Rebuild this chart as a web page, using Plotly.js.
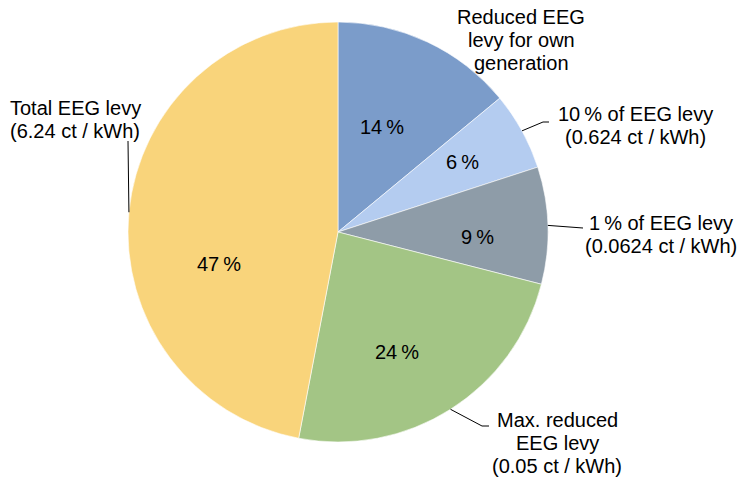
<!DOCTYPE html>
<html>
<head>
<meta charset="utf-8">
<script src="https://cdn.plot.ly/plotly-3.0.1.min.js"></script>
<style>html,body{margin:0;padding:0;background:#fff;}#chart{width:738px;height:481px;}</style>
</head>
<body>
<div id="chart"></div>
<script>
// ---- data ----
const categories = ['Reduced EEG levy for own generation', '10 % of EEG levy (0.624 ct / kWh)', '1 % of EEG levy (0.0624 ct / kWh)', 'Max. reduced EEG levy (0.05 ct / kWh)', 'Total EEG levy (6.24 ct / kWh)'];
const shares = [14, 6, 9, 24, 47];
const labelLines = [
  ['Reduced EEG', 'levy for own', 'generation'],
  ['10\u2009% of EEG levy', '(0.624 ct / kWh)'],
  ['1\u2009% of EEG levy', '(0.0624 ct / kWh)'],
  ['Max. reduced', 'EEG levy', '(0.05 ct / kWh)'],
  ['Total EEG levy', '(6.24 ct / kWh)']
];
const colors = ['#7B9CCA', '#B4CCF0', '#8E9CA8', '#A3C585', '#F9D47B'];

// ---- layout config (pixels) ----
const W = 738, H = 481;
const CX = 338, CY = 232, R = 210;
const FONT = 'Liberation Sans, Arial, sans-serif';
const FS = 20, LH = 23;
// outside label text centre (x) and first-line centre (y); leader path after pie edge
const labelCfg = [
  {x: 521, y: 17, path: null},
  {x: 635, y: 114, path: [[543, 122], [549, 122]]},
  {x: 661, y: 223, path: [[583, 228]]},
  {x: 557, y: 420, path: [[482, 426], [489, 426]]},
  {x: 75, y: 108, path: [[128, 141]]}
];
// inside percentage label centres
const insideCfg = [
  {x: 382, y: 127}, {x: 462, y: 162}, {x: 477, y: 237}, {x: 397, y: 352}, {x: 219, y: 264}
];

const px = x => x / W;
const py = y => 1 - y / H;

const total = shares.reduce((a, b) => a + b, 0);
let cum = 0;
const mids = shares.map(v => { const m = (cum + v / 2) / total * 2 * Math.PI; cum += v; return m; });

const annotations = [];
const shapes = [];
labelLines.forEach((lines, i) => {
  const c = labelCfg[i];
  lines.forEach((t, j) => {
    annotations.push({
      text: t, showarrow: false, xref: 'paper', yref: 'paper',
      x: px(c.x), y: py(c.y + j * LH), xanchor: 'center', yanchor: 'middle',
      font: {family: FONT, size: FS, color: '#000'}
    });
  });
  if (c.path) {
    const sx = CX + R * Math.sin(mids[i]);
    const sy = CY - R * Math.cos(mids[i]);
    const pts = [[sx, sy]].concat(c.path);
    const d = pts.map((p, k) => (k ? 'L' : 'M') + px(p[0]) + ',' + py(p[1])).join(' ');
    shapes.push({type: 'path', xref: 'paper', yref: 'paper', path: d, line: {color: '#000', width: 1}});
  }
});
shares.forEach((v, i) => {
  annotations.push({
    text: v + '\u2009%', showarrow: false, xref: 'paper', yref: 'paper',
    x: px(insideCfg[i].x), y: py(insideCfg[i].y), xanchor: 'center', yanchor: 'middle',
    font: {family: FONT, size: FS, color: '#000'}
  });
});

const trace = {
  type: 'pie',
  labels: categories,
  values: shares,
  textinfo: 'none',
  sort: false,
  direction: 'clockwise',
  rotation: 0,
  marker: {colors: colors, line: {color: '#ffffff', width: 0.6}},
  hoverinfo: 'label+percent',
  domain: {x: [px(CX - R), px(CX + R)], y: [py(CY + R), py(CY - R)]}
};

const layout = {
  width: W, height: H,
  margin: {l: 0, r: 0, t: 0, b: 0},
  showlegend: false,
  paper_bgcolor: '#fff',
  annotations: annotations,
  shapes: shapes
};

Plotly.newPlot('chart', [trace], layout, {displayModeBar: false, staticPlot: true});
</script>
</body>
</html>
